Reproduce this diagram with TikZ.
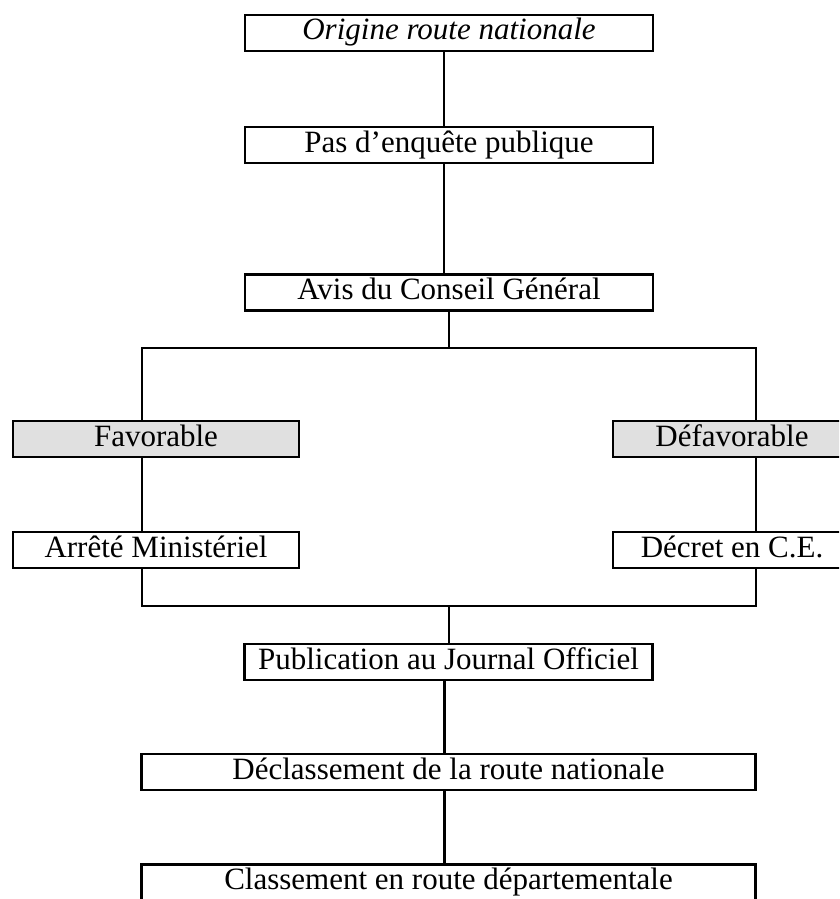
\documentclass[tikz,border=0pt]{standalone}
\usepackage{fontspec}
\setmainfont{Liberation Serif}
\usetikzlibrary{positioning}

\begin{document}
\begin{tikzpicture}[x=1pt, y=1pt, node distance=72pt, font=\fontsize{31}{34}\selectfont]
    \tikzstyle{block} = [rectangle, draw, line width=2.2pt, fill=white, minimum width=408pt, minimum height=36pt, inner sep=0pt, text height=21pt, text depth=7pt, text centered]
    \tikzstyle{choice} = [block, fill=black!12, minimum width=286pt]
    \tikzstyle{link} = [draw, line width=2.2pt]

    \clip (0,0) rectangle (839,-899);

    \node[block, font=\fontsize{31}{34}\selectfont\itshape] (origine) at (449,-33) {Origine route nationale};
    \node[block, below=74pt of origine] (enquete) {Pas d'enquête publique};
    \node[block, below=109pt of enquete] (avis) {Avis du Conseil Général};

    \node[choice] (favorable) at (156,-439) {Favorable};
    \node[choice, minimum width=238pt] (defavorable) at (732,-439) {Défavorable};
    \node[block, minimum width=286pt, below=73pt of favorable] (arrete) {Arrêté Ministériel};
    \node[block, minimum width=238pt, below=73pt of defavorable] (decret) {Décret en C.E.};

    \node[block] (publication) at (448.5,-662) {Publication au Journal Officiel};
    \node[block, minimum width=614pt, below=of publication] (declassement) {Déclassement de la route nationale};
    \node[block, minimum width=614pt, below=of declassement] (classement) {Classement en route départementale};

    \coordinate (split) at (449,-348);
    \coordinate (join) at (449,-606);

    \path[link] ([xshift=-5pt]origine.south) -- ([xshift=-5pt]enquete.north);
    \path[link] ([xshift=-5pt]enquete.south) -- ([xshift=-5pt]avis.north);
    \path[link] (avis.south) -- (split);
    \path[link] ([xshift=-14pt]favorable.north) |- (split) -| ([xshift=24pt]defavorable.north);
    \path[link] ([xshift=-14pt]favorable.south) -- ([xshift=-14pt]arrete.north);
    \path[link] ([xshift=24pt]defavorable.south) -- ([xshift=24pt]decret.north);
    \path[link] ([xshift=-14pt]arrete.south) |- (join) -| ([xshift=24pt]decret.south);
    \path[link] (join) -- (join |- publication.north);
    \path[link] ([xshift=-4pt]publication.south) -- ([xshift=-4pt]declassement.north);
    \path[link] ([xshift=-4pt]declassement.south) -- ([xshift=-4pt]classement.north);
\end{tikzpicture}
\end{document}
